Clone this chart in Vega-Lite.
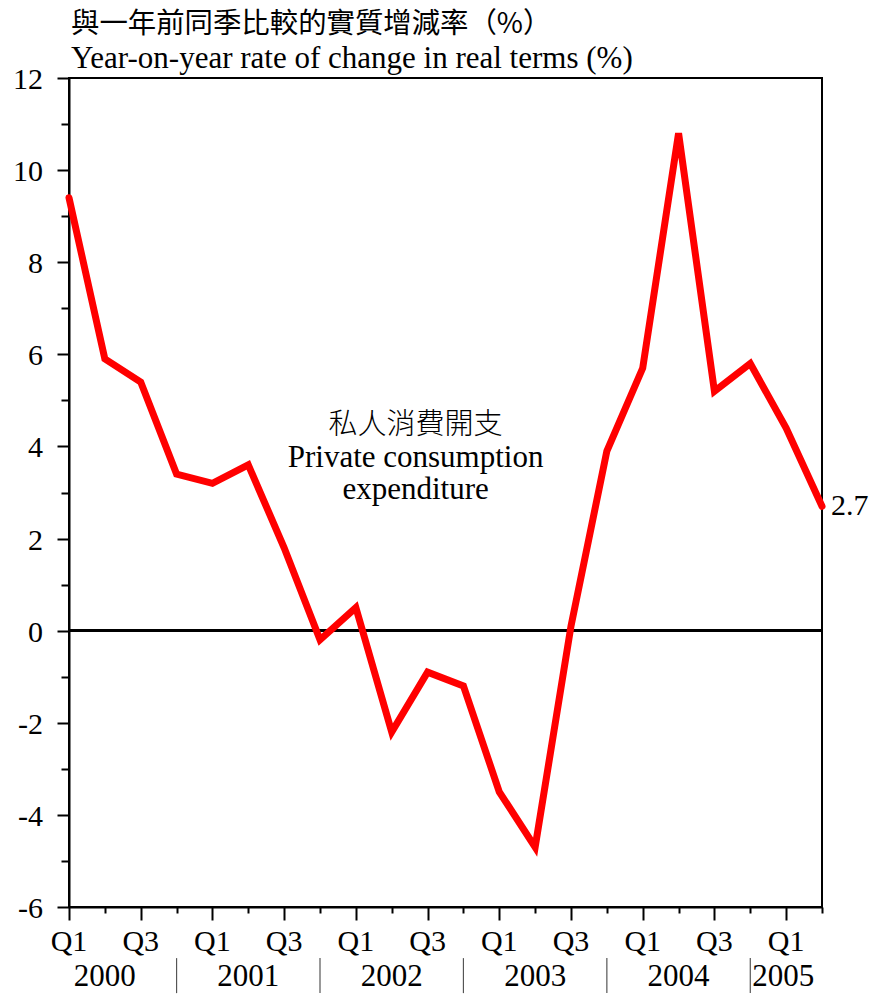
{
  "$schema": "https://vega.github.io/schema/vega-lite/v6.json",
  "autosize": "none",
  "width": 753,
  "height": 829,
  "padding": {"left": 69, "top": 78, "right": 48, "bottom": 87},
  "background": "white",
  "config": {
    "view": {"stroke": "black", "strokeWidth": 2},
    "axis": {"labels": false, "domainColor": "black", "tickColor": "black", "domainWidth": 2, "tickWidth": 2, "grid": false, "title": null}
  },
  "title": {
    "text": "與一年前同季比較的實質增減率（%）",
    "subtitle": "Year-on-year rate of change in real terms (%)",
    "anchor": "start",
    "frame": "group",
    "font": "Noto Sans CJK TC",
    "fontSize": 28.4,
    "fontWeight": "normal",
    "color": "black",
    "subtitleFont": "Liberation Serif",
    "subtitleFontSize": 31,
    "subtitleColor": "black",
    "subtitlePadding": 5,
    "offset": -10,
    "dx": 2
  },
  "datasets": {
    "series": [
      {"quarter": "2000 Q1", "value": 9.4},
      {"quarter": "2000 Q2", "value": 5.9},
      {"quarter": "2000 Q3", "value": 5.4},
      {"quarter": "2000 Q4", "value": 3.4},
      {"quarter": "2001 Q1", "value": 3.2},
      {"quarter": "2001 Q2", "value": 3.6},
      {"quarter": "2001 Q3", "value": 1.8},
      {"quarter": "2001 Q4", "value": -0.2},
      {"quarter": "2002 Q1", "value": 0.5},
      {"quarter": "2002 Q2", "value": -2.2},
      {"quarter": "2002 Q3", "value": -0.9},
      {"quarter": "2002 Q4", "value": -1.2},
      {"quarter": "2003 Q1", "value": -3.5},
      {"quarter": "2003 Q2", "value": -4.7},
      {"quarter": "2003 Q3", "value": 0.1},
      {"quarter": "2003 Q4", "value": 3.9},
      {"quarter": "2004 Q1", "value": 5.7},
      {"quarter": "2004 Q2", "value": 10.8},
      {"quarter": "2004 Q3", "value": 5.2},
      {"quarter": "2004 Q4", "value": 5.8},
      {"quarter": "2005 Q1", "value": 4.4},
      {"quarter": "2005 Q2", "value": 2.7}
    ],
    "xlabels": [
      {"quarter": "2000 Q1", "label": "Q1"},
      {"quarter": "2000 Q3", "label": "Q3"},
      {"quarter": "2001 Q1", "label": "Q1"},
      {"quarter": "2001 Q3", "label": "Q3"},
      {"quarter": "2002 Q1", "label": "Q1"},
      {"quarter": "2002 Q3", "label": "Q3"},
      {"quarter": "2003 Q1", "label": "Q1"},
      {"quarter": "2003 Q3", "label": "Q3"},
      {"quarter": "2004 Q1", "label": "Q1"},
      {"quarter": "2004 Q3", "label": "Q3"},
      {"quarter": "2005 Q1", "label": "Q1"}
    ],
    "ylabels": [
      {"value": -6, "label": "-6"}, {"value": -4, "label": "-4"}, {"value": -2, "label": "-2"},
      {"value": 0, "label": "0"}, {"value": 2, "label": "2"}, {"value": 4, "label": "4"},
      {"value": 6, "label": "6"}, {"value": 8, "label": "8"}, {"value": 10, "label": "10"},
      {"value": 12, "label": "12"}
    ],
    "years": [
      {"quarter": "2000 Q2", "year": "2000"},
      {"quarter": "2001 Q2", "year": "2001"},
      {"quarter": "2002 Q2", "year": "2002"},
      {"quarter": "2003 Q2", "year": "2003"},
      {"quarter": "2004 Q2", "year": "2004"}
    ],
    "lastyear": [
      {"quarter": "2004 Q4", "year": "2005"}
    ],
    "separators": [
      {"quarter": "2000 Q4"},
      {"quarter": "2001 Q4"},
      {"quarter": "2002 Q4"},
      {"quarter": "2003 Q4"},
      {"quarter": "2004 Q4"}
    ],
    "note_zh": [
      {"quarter": "2002 Q3", "value": 4.47, "text": "私人消費開支"}
    ],
    "note_en": [
      {"quarter": "2002 Q3", "value": 3.75, "text": ["Private consumption", "expenditure"]}
    ],
    "last": [
      {"quarter": "2005 Q2", "value": 2.7, "text": "2.7"}
    ]
  },
  "layer": [
    {
      "data": {"name": "series"},
      "mark": {"type": "rule", "color": "black", "strokeWidth": 2},
      "encoding": {"y": {"datum": 0, "type": "quantitative"}}
    },
    {
      "data": {"name": "series"},
      "mark": {"type": "line", "color": "#ff0000", "strokeWidth": 7, "strokeCap": "round"},
      "encoding": {
        "x": {
          "field": "quarter", "type": "ordinal", "sort": "ascending",
          "scale": {"type": "point", "padding": 0},
          "axis": {
            "labels": false,
            "tickSize": {"condition": {"test": "slice(datum.value, 5) == 'Q1' || slice(datum.value, 5) == 'Q3'", "value": 13}, "value": 6}
          }
        },
        "y": {
          "field": "value", "type": "quantitative",
          "scale": {"domain": [-6, 12], "nice": false, "zero": false},
          "axis": {
            "labels": false,
            "values": [-6,-5.5,-5,-4.5,-4,-3.5,-3,-2.5,-2,-1.5,-1,-0.5,0,0.5,1,1.5,2,2.5,3,3.5,4,4.5,5,5.5,6,6.5,7,7.5,8,8.5,9,9.5,10,10.5,11,11.5,12],
            "tickSize": {"condition": {"test": "datum.value % 2 == 0", "value": 12}, "value": 8}
          }
        }
      }
    },
    {
      "data": {"name": "xlabels"},
      "mark": {"type": "text", "fontSize": 30, "font": "Liberation Serif", "baseline": "middle", "align": "center"},
      "encoding": {
        "x": {"field": "quarter", "type": "ordinal", "sort": "ascending"},
        "y": {"datum": -6.76, "type": "quantitative"},
        "text": {"field": "label"}
      }
    },
    {
      "data": {"name": "ylabels"},
      "mark": {"type": "text", "fontSize": 30, "font": "Liberation Serif", "baseline": "middle", "align": "right", "dx": -26, "dy": 2},
      "encoding": {
        "x": {"datum": "2000 Q1", "type": "ordinal"},
        "y": {"field": "value", "type": "quantitative"},
        "text": {"field": "label"}
      }
    },
    {
      "data": {"name": "separators"},
      "mark": {"type": "rule", "color": "#555555", "strokeWidth": 1.2},
      "encoding": {
        "x": {"field": "quarter", "type": "ordinal", "sort": "ascending"},
        "y": {"datum": -7.11, "type": "quantitative"},
        "y2": {"datum": -7.87}
      }
    },
    {
      "data": {"name": "years"},
      "mark": {"type": "text", "fontSize": 31, "font": "Liberation Serif", "baseline": "middle", "align": "center"},
      "encoding": {
        "x": {"field": "quarter", "type": "ordinal", "sort": "ascending"},
        "y": {"datum": -7.52, "type": "quantitative"},
        "text": {"field": "year"}
      }
    },
    {
      "data": {"name": "lastyear"},
      "mark": {"type": "text", "fontSize": 31, "font": "Liberation Serif", "baseline": "middle", "align": "left", "dx": 2},
      "encoding": {
        "x": {"field": "quarter", "type": "ordinal", "sort": "ascending"},
        "y": {"datum": -7.52, "type": "quantitative"},
        "text": {"field": "year"}
      }
    },
    {
      "data": {"name": "note_zh"},
      "mark": {"type": "text", "fontSize": 29, "font": "Noto Sans CJK TC", "fontWeight": 300, "baseline": "middle", "align": "center", "dx": -12},
      "encoding": {
        "x": {"field": "quarter", "type": "ordinal", "sort": "ascending"},
        "y": {"field": "value", "type": "quantitative"},
        "text": {"field": "text"}
      }
    },
    {
      "data": {"name": "note_en"},
      "mark": {"type": "text", "fontSize": 31, "font": "Liberation Serif", "baseline": "middle", "align": "center", "lineHeight": 32, "dx": -12},
      "encoding": {
        "x": {"field": "quarter", "type": "ordinal", "sort": "ascending"},
        "y": {"field": "value", "type": "quantitative"},
        "text": {"field": "text"}
      }
    },
    {
      "data": {"name": "last"},
      "mark": {"type": "text", "fontSize": 30, "font": "Liberation Serif", "baseline": "middle", "align": "left", "dx": 9},
      "encoding": {
        "x": {"field": "quarter", "type": "ordinal", "sort": "ascending"},
        "y": {"field": "value", "type": "quantitative"},
        "text": {"field": "text"}
      }
    }
  ]
}
